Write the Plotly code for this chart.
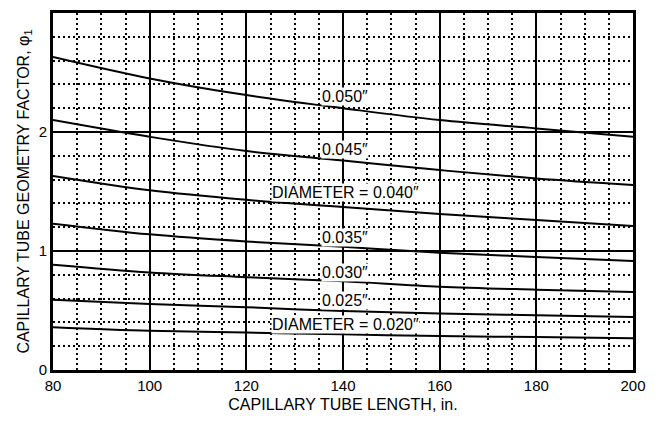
import plotly.graph_objects as go

# capillary tube length, in.
length = [80, 100, 120, 140, 160, 180, 200]

# geometry factor phi1 for each tube diameter
d050 = [2.63, 2.45, 2.31, 2.20, 2.10, 2.03, 1.96]
d045 = [2.10, 1.96, 1.84, 1.76, 1.68, 1.61, 1.555]
d040 = [1.63, 1.51, 1.43, 1.37, 1.31, 1.26, 1.21]
d035 = [1.23, 1.14, 1.08, 1.035, 0.985, 0.95, 0.915]
d030 = [0.885, 0.82, 0.78, 0.745, 0.70, 0.675, 0.655]
d025 = [0.59, 0.555, 0.528, 0.495, 0.475, 0.46, 0.445]
d020 = [0.36, 0.33, 0.315, 0.30, 0.285, 0.277, 0.266]

curves = [d050, d045, d040, d035, d030, d025, d020]
labels = ["0.050″", "0.045″", "DIAMETER = 0.040″", "0.035″",
          "0.030″", "0.025″", "DIAMETER = 0.020″"]
label_y = [2.30, 1.85, 1.49, 1.11, 0.82, 0.58, 0.385]
label_x = 140.5

font = "Arial, Liberation Sans, sans-serif"

fig = go.Figure()
for c in curves:
    fig.add_trace(go.Scatter(x=length, y=c, mode="lines",
                             line=dict(color="black", width=2, shape="spline"),
                             showlegend=False, hoverinfo="skip"))

for txt, yy in zip(labels, label_y):
    fig.add_annotation(x=label_x, y=yy, text=txt, showarrow=False,
                       bgcolor="white", borderpad=0,
                       font=dict(family=font, size=16, color="black"))

axis_common = dict(
    showline=True, linecolor="black", linewidth=3, mirror=True,
    showgrid=True, gridcolor="black", gridwidth=2,
    zeroline=False, ticks="", ticklen=0, automargin=False,
    tickfont=dict(family=font, size=15, color="black"),
    title_font=dict(family=font, size=16, color="black"),
)

fig.update_xaxes(range=[80, 200], dtick=20, tick0=80,
                 title_text="CAPILLARY TUBE LENGTH, in.", title_standoff=6,
                 minor=dict(dtick=5, tick0=80, showgrid=True, gridcolor="black",
                            gridwidth=1.5, griddash="1.5px,3.5px"),
                 **axis_common)
fig.update_yaxes(range=[0, 3], dtick=1, tick0=0,
                 title_text="CAPILLARY TUBE GEOMETRY FACTOR, φ<sub>1</sub>",
                 title_standoff=6,
                 minor=dict(dtick=0.2, tick0=0, showgrid=True, gridcolor="black",
                            gridwidth=1.5, griddash="1.5px,3.5px"),
                 **axis_common)

# page body has an 8px margin, so the figure is 8px smaller each way
fig.update_layout(
    width=650, height=413,
    margin=dict(l=45, r=25, t=5, b=51),
    plot_bgcolor="white", paper_bgcolor="white",
    font=dict(family=font, color="black"),
)

fig.write_html("out.html")
